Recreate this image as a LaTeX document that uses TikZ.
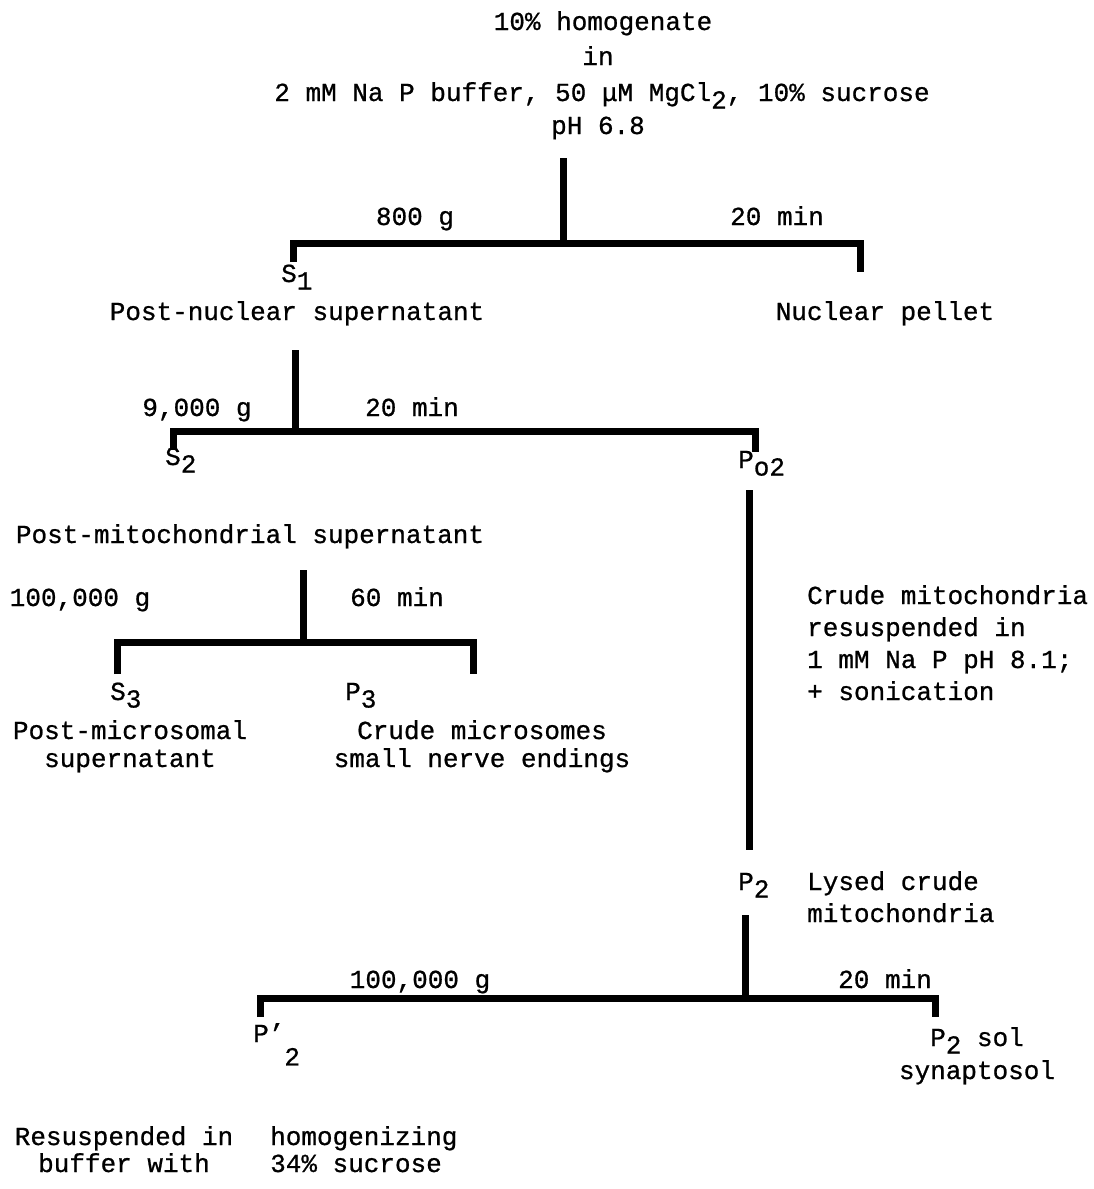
\documentclass[tikz,border=0pt]{standalone}
\usepackage{fontspec}
\setmainfont{Liberation Mono}[FakeBold=0.8]
\newcommand{\low}[1]{\raisebox{-0.55ex}{#1}}
\tikzset{
	bar/.style={line width=7pt,line cap=butt},
	txt/.style={inner sep=0pt,font=\fontsize{26}{32}\selectfont},
	txtc/.style={txt,anchor=base},
	txtl/.style={txt,anchor=base west,align=left},
}
\begin{document}
\begin{tikzpicture}[x=1pt,y=-1pt]
				\useasboundingbox (0,0) rectangle (1093,1189);
				% starting material
				\node[txtc] (homog) at (603,30) {10\% homogenate};
				\node[txtc] (in) at (598,65) {in};
				\node[txtc] (buffer) at (602,101) {2 mM Na P buffer, 50 μM MgCl\low{2}, 10\% sucrose};
				\node[txtc] (ph) at (598,134) {pH 6.8};
				% first spin
				\coordinate (t1) at (563,158);
				\coordinate (j1) at (563,243);
				\coordinate (l1) at (293,262);
				\coordinate (r1) at (860,272);
				\draw[bar](t1)--(j1);
				\draw[bar](l1)|-(j1)-|(r1);
				\node[txtc] (g1) at (415,225) {800 g};
				\node[txtc] (m1) at (777,225) {20 min};
				\node[txtl] (s1) at (281,282) {S\low{1}};
				\node[txtc] (postnuc) at (297,320) {Post-nuclear supernatant};
				\node[txtc] (nucpel) at (885,320) {Nuclear pellet};
				% second spin
				\coordinate (t2) at (295,350);
				\coordinate (j2) at (295,431);
				\coordinate (l2) at (173,450);
				\coordinate (r2) at (755,452);
				\draw[bar](t2)--(j2);
				\draw[bar](l2)|-(j2)-|(r2);
				\node[txtc] (g2) at (197,416) {9,000 g};
				\node[txtc] (m2) at (412,416) {20 min};
				\node[txtl] (s2) at (165,465) {S\low{2}};
				\node[txtl] (po2) at (738,468) {P\low{o2}};
				\node[txtc] (postmit) at (250,543) {Post-mitochondrial supernatant};
				% third spin
				\coordinate (t3) at (303,570);
				\coordinate (j3) at (303,642);
				\coordinate (l3) at (117,674);
				\coordinate (r3) at (473,674);
				\draw[bar](t3)--(j3);
				\draw[bar](l3)|-(j3)-|(r3);
				\node[txtc] (g3) at (80,606) {100,000 g};
				\node[txtc] (m3) at (397,606) {60 min};
				\node[txtl] (s3) at (110,700) {S\low{3}};
				\node[txtl] (p3) at (345,700) {P\low{3}};
				\node[txt,anchor=base,align=center,font=\fontsize{26}{28}\selectfont] (postmic) at (130,767) {Post-microsomal\\supernatant};
				\node[txt,anchor=base,align=center,font=\fontsize{26}{28}\selectfont] (crudemic) at (482,767) {Crude microsomes\\small nerve endings};
				% lysis
				\coordinate (t4) at (749,490);
				\coordinate (b4) at (749,850);
				\draw[bar](t4)--(b4);
				\node[txtl] (lysis) at (807,700) {Crude mitochondria\\resuspended in\\1 mM Na P pH 8.1;\\+ sonication};
				\node[txtl] (p2) at (738,890) {P\low{2}};
				\node[txtl] (lysed) at (807,922) {Lysed crude\\mitochondria};
				% fourth spin
				\coordinate (t5) at (745,915);
				\coordinate (j5) at (745,998);
				\coordinate (l5) at (260,1017);
				\coordinate (r5) at (935,1017);
				\draw[bar](t5)--(j5);
				\draw[bar](l5)|-(j5)-|(r5);
				\node[txtc] (g5) at (420,988) {100,000 g};
				\node[txtc] (m5) at (885,988) {20 min};
				\node[txtl] (p2pr) at (253,1042) {P'\raisebox{-0.9em}{2}};
				\node[txtc] (p2sol) at (977,1046) {P\low{2} sol};
				\node[txtc] (synap) at (977,1079) {synaptosol};
				\node[txt,anchor=base,align=center,font=\fontsize{26}{27}\selectfont] (resus) at (124,1172) {Resuspended in\\buffer with};
				\node[txt,anchor=base west,align=left,font=\fontsize{26}{27}\selectfont] (homogz) at (270,1172) {homogenizing\\34\% sucrose};
\end{tikzpicture}
\end{document}
